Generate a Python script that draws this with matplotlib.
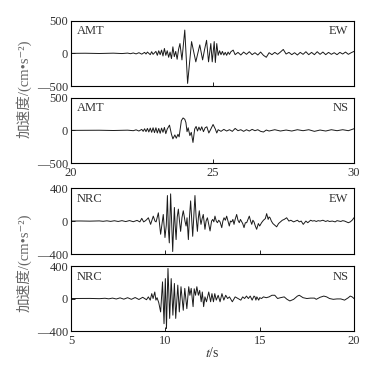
import matplotlib
matplotlib.use("Agg")
import matplotlib.pyplot as plt

plt.rcParams['font.family'] = ['Liberation Serif', 'Noto Sans CJK SC', 'DejaVu Sans']
plt.rcParams['mathtext.fontset'] = 'stix'

# (t [s], acceleration [cm/s^2]), peaks and troughs
amt_ew = [
    (20.0, 0), (20.5, 2), (21.0, -2), (21.5, 3), (21.8, -3), (22.0, 4), (22.1, -5), (22.2, 6),
    (22.3, -8), (22.4, 10), (22.5, -12), (22.6, 15), (22.65, -10), (22.7, 20), (22.8, -20),
    (22.85, 25), (22.9, -15), (23.0, 30), (23.05, -30), (23.1, 40), (23.15, -20), (23.2, 50),
    (23.25, -40), (23.3, 75), (23.35, -30), (23.4, 40), (23.45, -60), (23.5, 20), (23.55, -80),
    (23.6, 100), (23.65, -50), (23.7, 30), (23.75, -90), (23.8, 60), (23.85, 150), (23.92, -100),
    (24.02, 357), (24.12, -460), (24.26, 180), (24.41, -130), (24.55, 130), (24.65, -100),
    (24.72, 60), (24.79, 200), (24.86, -130), (24.94, 150), (24.99, -130), (25.06, 180),
    (25.10, -140), (25.15, 150), (25.2, -30), (25.25, 40), (25.3, -20), (25.35, 30), (25.4, -25),
    (25.45, 15), (25.5, -30), (25.55, 20), (25.6, -15), (25.65, 25), (25.73, 50), (25.8, -20),
    (25.9, 15), (26.0, -25), (26.1, 20), (26.2, -15), (26.3, 25), (26.4, -20), (26.5, 10),
    (26.6, -25), (26.7, 20), (26.8, -30), (26.9, -60), (27.0, 10), (27.1, -20), (27.2, 15),
    (27.3, -15), (27.4, 20), (27.5, 60), (27.6, -10), (27.7, 15), (27.8, -20), (27.9, 10),
    (28.0, -25), (28.1, 15), (28.2, -15), (28.3, 25), (28.4, -20), (28.5, 15), (28.6, -20),
    (28.7, 25), (28.8, -15), (28.9, 20), (29.0, -20), (29.1, 15), (29.2, -15), (29.3, 10),
    (29.4, -20), (29.5, 15), (29.6, -10), (29.7, 20), (29.8, -15), (29.9, 10), (30.0, 30),
]

amt_ns = [
    (20.0, 0), (21.0, 2), (21.5, -2), (22.0, 3), (22.2, -5), (22.3, 8), (22.4, -10), (22.5, 15),
    (22.55, -15), (22.6, 25), (22.65, -20), (22.7, 30), (22.75, -25), (22.8, 35), (22.85, -30),
    (22.9, 40), (22.95, -35), (23.0, 40), (23.05, -40), (23.1, 30), (23.15, -45), (23.2, 35),
    (23.25, -30), (23.3, 45), (23.35, -50), (23.4, 20), (23.48, 80), (23.55, -60), (23.6, -130),
    (23.67, -70), (23.72, -120), (23.78, -60), (23.82, -100), (23.9, 150), (23.96, 190),
    (24.02, 170), (24.06, 120), (24.1, -20), (24.14, 40), (24.2, -80), (24.25, -30),
    (24.31, -185), (24.37, 20), (24.42, 60), (24.47, -10), (24.52, 50), (24.57, 0), (24.62, 55),
    (24.68, -20), (24.74, 40), (24.8, 55), (24.87, -40), (24.93, 10), (25.02, 90), (25.1, 20),
    (25.15, -40), (25.2, 10), (25.3, -15), (25.4, 15), (25.5, -10), (25.6, 10), (25.7, -15),
    (25.8, 30), (25.9, -5), (26.0, 10), (26.1, -15), (26.2, 10), (26.3, -10), (26.4, 15),
    (26.5, -5), (26.6, 10), (26.7, -15), (26.8, -25), (26.9, 5), (27.0, -10), (27.2, 10),
    (27.4, -10), (27.6, 5), (27.8, -10), (28.0, 10), (28.2, -5), (28.4, 10), (28.6, -15),
    (28.8, 5), (29.0, -10), (29.2, 10), (29.4, -5), (29.6, 10), (29.8, -5), (30.0, 25),
]

nrc_ew = [
    (5.0, 0), (5.5, 1), (6.0, -1), (6.5, 2), (6.7, -3), (6.9, 3), (7.1, -4), (7.3, 4), (7.5, -5),
    (7.7, 5), (7.9, -6), (8.1, 6), (8.3, -8), (8.5, 8), (8.65, -10), (8.75, 33), (8.85, -10),
    (8.92, 0), (9.0, 15), (9.10, 40), (9.22, -40), (9.36, 60), (9.45, 0), (9.51, -10),
    (9.63, 100), (9.75, -160), (9.89, 80), (9.98, -200), (10.05, -50), (10.11, 310),
    (10.16, -100), (10.21, -265), (10.25, 100), (10.28, 330), (10.33, 0), (10.39, -370),
    (10.44, -50), (10.48, 165), (10.52, -50), (10.57, -225), (10.63, 50), (10.69, 145),
    (10.75, 0), (10.81, -125), (10.88, 40), (10.95, 125), (11.0, 60), (11.04, 0), (11.1, -60),
    (11.15, 40), (11.22, -225), (11.28, 50), (11.34, 245), (11.40, 0), (11.45, -185),
    (11.51, 60), (11.57, 310), (11.63, 50), (11.70, -125), (11.75, 40), (11.80, 125),
    (11.85, 20), (11.89, -40), (11.95, 30), (12.01, 80), (12.10, -100), (12.16, 0), (12.23, 40),
    (12.30, -40), (12.37, -120), (12.45, 0), (12.51, 20), (12.57, -10), (12.63, 60), (12.70, 0),
    (12.76, -20), (12.83, 10), (12.90, -10), (12.99, -80), (13.05, 0), (13.11, 40), (13.18, 10),
    (13.25, 60), (13.32, 0), (13.39, -60), (13.45, 0), (13.52, -10), (13.58, 20), (13.64, -40),
    (13.70, 20), (13.78, 80), (13.85, 10), (13.92, -20), (13.98, 20), (14.05, -10),
    (14.10, -30), (14.17, -80), (14.24, -20), (14.31, -20), (14.38, 20), (14.45, 60),
    (14.52, 0), (14.58, -40), (14.64, 10), (14.70, -10), (14.77, -60), (14.84, -100),
    (14.93, -30), (15.0, -60), (15.1, -20), (15.2, 10), (15.3, 30), (15.37, 90), (15.45, 20),
    (15.5, 50), (15.55, 40), (15.62, 0), (15.7, -30), (15.80, -50), (15.9, -70), (16.0, -30),
    (16.1, -10), (16.2, 10), (16.3, 20), (16.43, 40), (16.55, 0), (16.65, 10), (16.8, -10),
    (16.9, 0), (17.0, 10), (17.1, -10), (17.2, 0), (17.31, -40), (17.45, 0), (17.55, -20),
    (17.7, 10), (17.8, 0), (17.9, 5), (18.0, -5), (18.1, 5), (18.2, 0), (18.35, 10),
    (18.5, -5), (18.6, 5), (18.7, -5), (18.85, 0), (19.0, -10), (19.1, 5), (19.2, 0),
    (19.3, -5), (19.4, 5), (19.5, 0), (19.6, -10), (19.7, -20), (19.8, -10), (19.9, 10),
    (20.0, 40),
]

nrc_ns = [
    (5.0, 0), (6.0, 1), (6.5, -2), (6.8, 3), (7.0, -4), (7.2, 5), (7.4, -6), (7.6, 8), (7.8, -8),
    (8.0, 10), (8.2, -10), (8.4, 12), (8.6, -12), (8.8, 15), (9.0, -15), (9.1, 20), (9.2, -20),
    (9.28, 60), (9.35, 0), (9.44, 80), (9.5, -20), (9.56, 10), (9.65, -50), (9.75, -165),
    (9.85, 205), (9.93, -310), (10.0, 245), (10.06, -370), (10.14, 370), (10.23, -245),
    (10.31, 245), (10.40, -205), (10.48, 185), (10.55, -245), (10.66, 165), (10.74, -165),
    (10.83, 145), (10.95, -145), (11.03, 125), (11.14, -125), (11.24, 145), (11.3, 40),
    (11.37, 125), (11.47, -100), (11.53, 120), (11.6, 40), (11.67, 145), (11.75, 40),
    (11.82, 100), (11.9, -40), (11.96, 80), (12.03, -100), (12.1, 20), (12.18, -40),
    (12.3, 80), (12.4, -40), (12.47, 60), (12.55, -40), (12.62, 60), (12.7, -20), (12.8, 40),
    (12.9, -40), (13.0, 60), (13.1, -20), (13.2, 40), (13.3, 0), (13.4, 20), (13.55, -40),
    (13.7, 20), (13.85, 0), (14.0, -20), (14.1, 20), (14.2, 0), (14.3, 30), (14.4, 0),
    (14.5, 30), (14.6, -20), (14.7, 30), (14.75, 20), (14.8, -20), (14.85, 20), (14.95, -20),
    (15.0, 10), (15.1, 0), (15.2, 20), (15.35, 10), (15.5, 20), (15.65, 40), (15.8, 40),
    (15.95, 0), (16.1, 10), (16.3, 20), (16.45, -10), (16.6, -30), (16.8, -10), (17.0, 30),
    (17.1, 40), (17.3, 10), (17.5, 0), (17.7, 5), (17.9, 5), (18.0, -10), (18.2, 15),
    (18.4, 30), (18.55, 20), (18.7, 0), (18.9, -10), (19.1, -5), (19.3, -5), (19.5, -20),
    (19.7, 10), (19.8, 30), (19.9, 20), (20.0, 0),
]

stations = ['AMT', 'AMT', 'NRC', 'NRC']
components = ['EW', 'NS', 'EW', 'NS']
traces = [amt_ew, amt_ns, nrc_ew, nrc_ns]
xlims = [(20, 30), (20, 30), (5, 20), (5, 20)]
xticks = [[20, 25, 30], [20, 25, 30], [5, 10, 15, 20], [5, 10, 15, 20]]
ylims = [500, 500, 400, 400]

# axes boxes in figure fractions (left, bottom, width, height)
boxes = [
    (0.1816, 0.765, 0.7238, 0.1784),
    (0.1816, 0.5546, 0.7238, 0.1784),
    (0.1816, 0.306, 0.7238, 0.180),
    (0.1816, 0.0956, 0.7238, 0.1776),
]

fig = plt.figure(figsize=(3.91, 3.66), dpi=100)
txt = '#333333'

for i in range(4):
    ax = fig.add_axes(boxes[i])
    t = [p[0] for p in traces[i]]
    a = [p[1] for p in traces[i]]
    ax.plot(t, a, color='#1a1a1a', lw=0.7)
    ax.set_xlim(*xlims[i])
    lim = ylims[i]
    ax.set_ylim(-lim, lim)
    ax.set_yticks([-lim, 0, lim])
    ax.set_yticklabels(['\u2014%d' % lim, '0', '%d' % lim], fontsize=9, color=txt)
    ax.set_xticks(xticks[i])
    if i % 2 == 1:
        ax.set_xticklabels([str(v) for v in xticks[i]], fontsize=9, color=txt)
    else:
        ax.set_xticklabels([])
    ax.tick_params(direction='in', length=3, width=0.6, pad=2)
    ax.tick_params(axis='x', pad=3)
    for s in ax.spines.values():
        s.set_linewidth(0.8)
    ax.text(0.02, 0.93, stations[i], transform=ax.transAxes, fontsize=9,
            color=txt, va='top', ha='left')
    ax.text(0.98, 0.93, components[i], transform=ax.transAxes, fontsize=9,
            color=txt, va='top', ha='right')

# plain text (no mathtext) so the CJK glyphs can fall back to Noto Sans CJK
ylab = '加速度/(cm\u2022s\u207b\u00b2)'
fig.text(0.062, 0.757, ylab, rotation=90, ha='center', va='center', fontsize=10.5,
         color='#666666')
fig.text(0.062, 0.283, ylab, rotation=90, ha='center', va='center', fontsize=10.5,
         color='#666666')
fig.text(0.543, 0.036, '$t$/s', ha='center', va='center', fontsize=10, color=txt)

fig.savefig('out.png', dpi=100)
